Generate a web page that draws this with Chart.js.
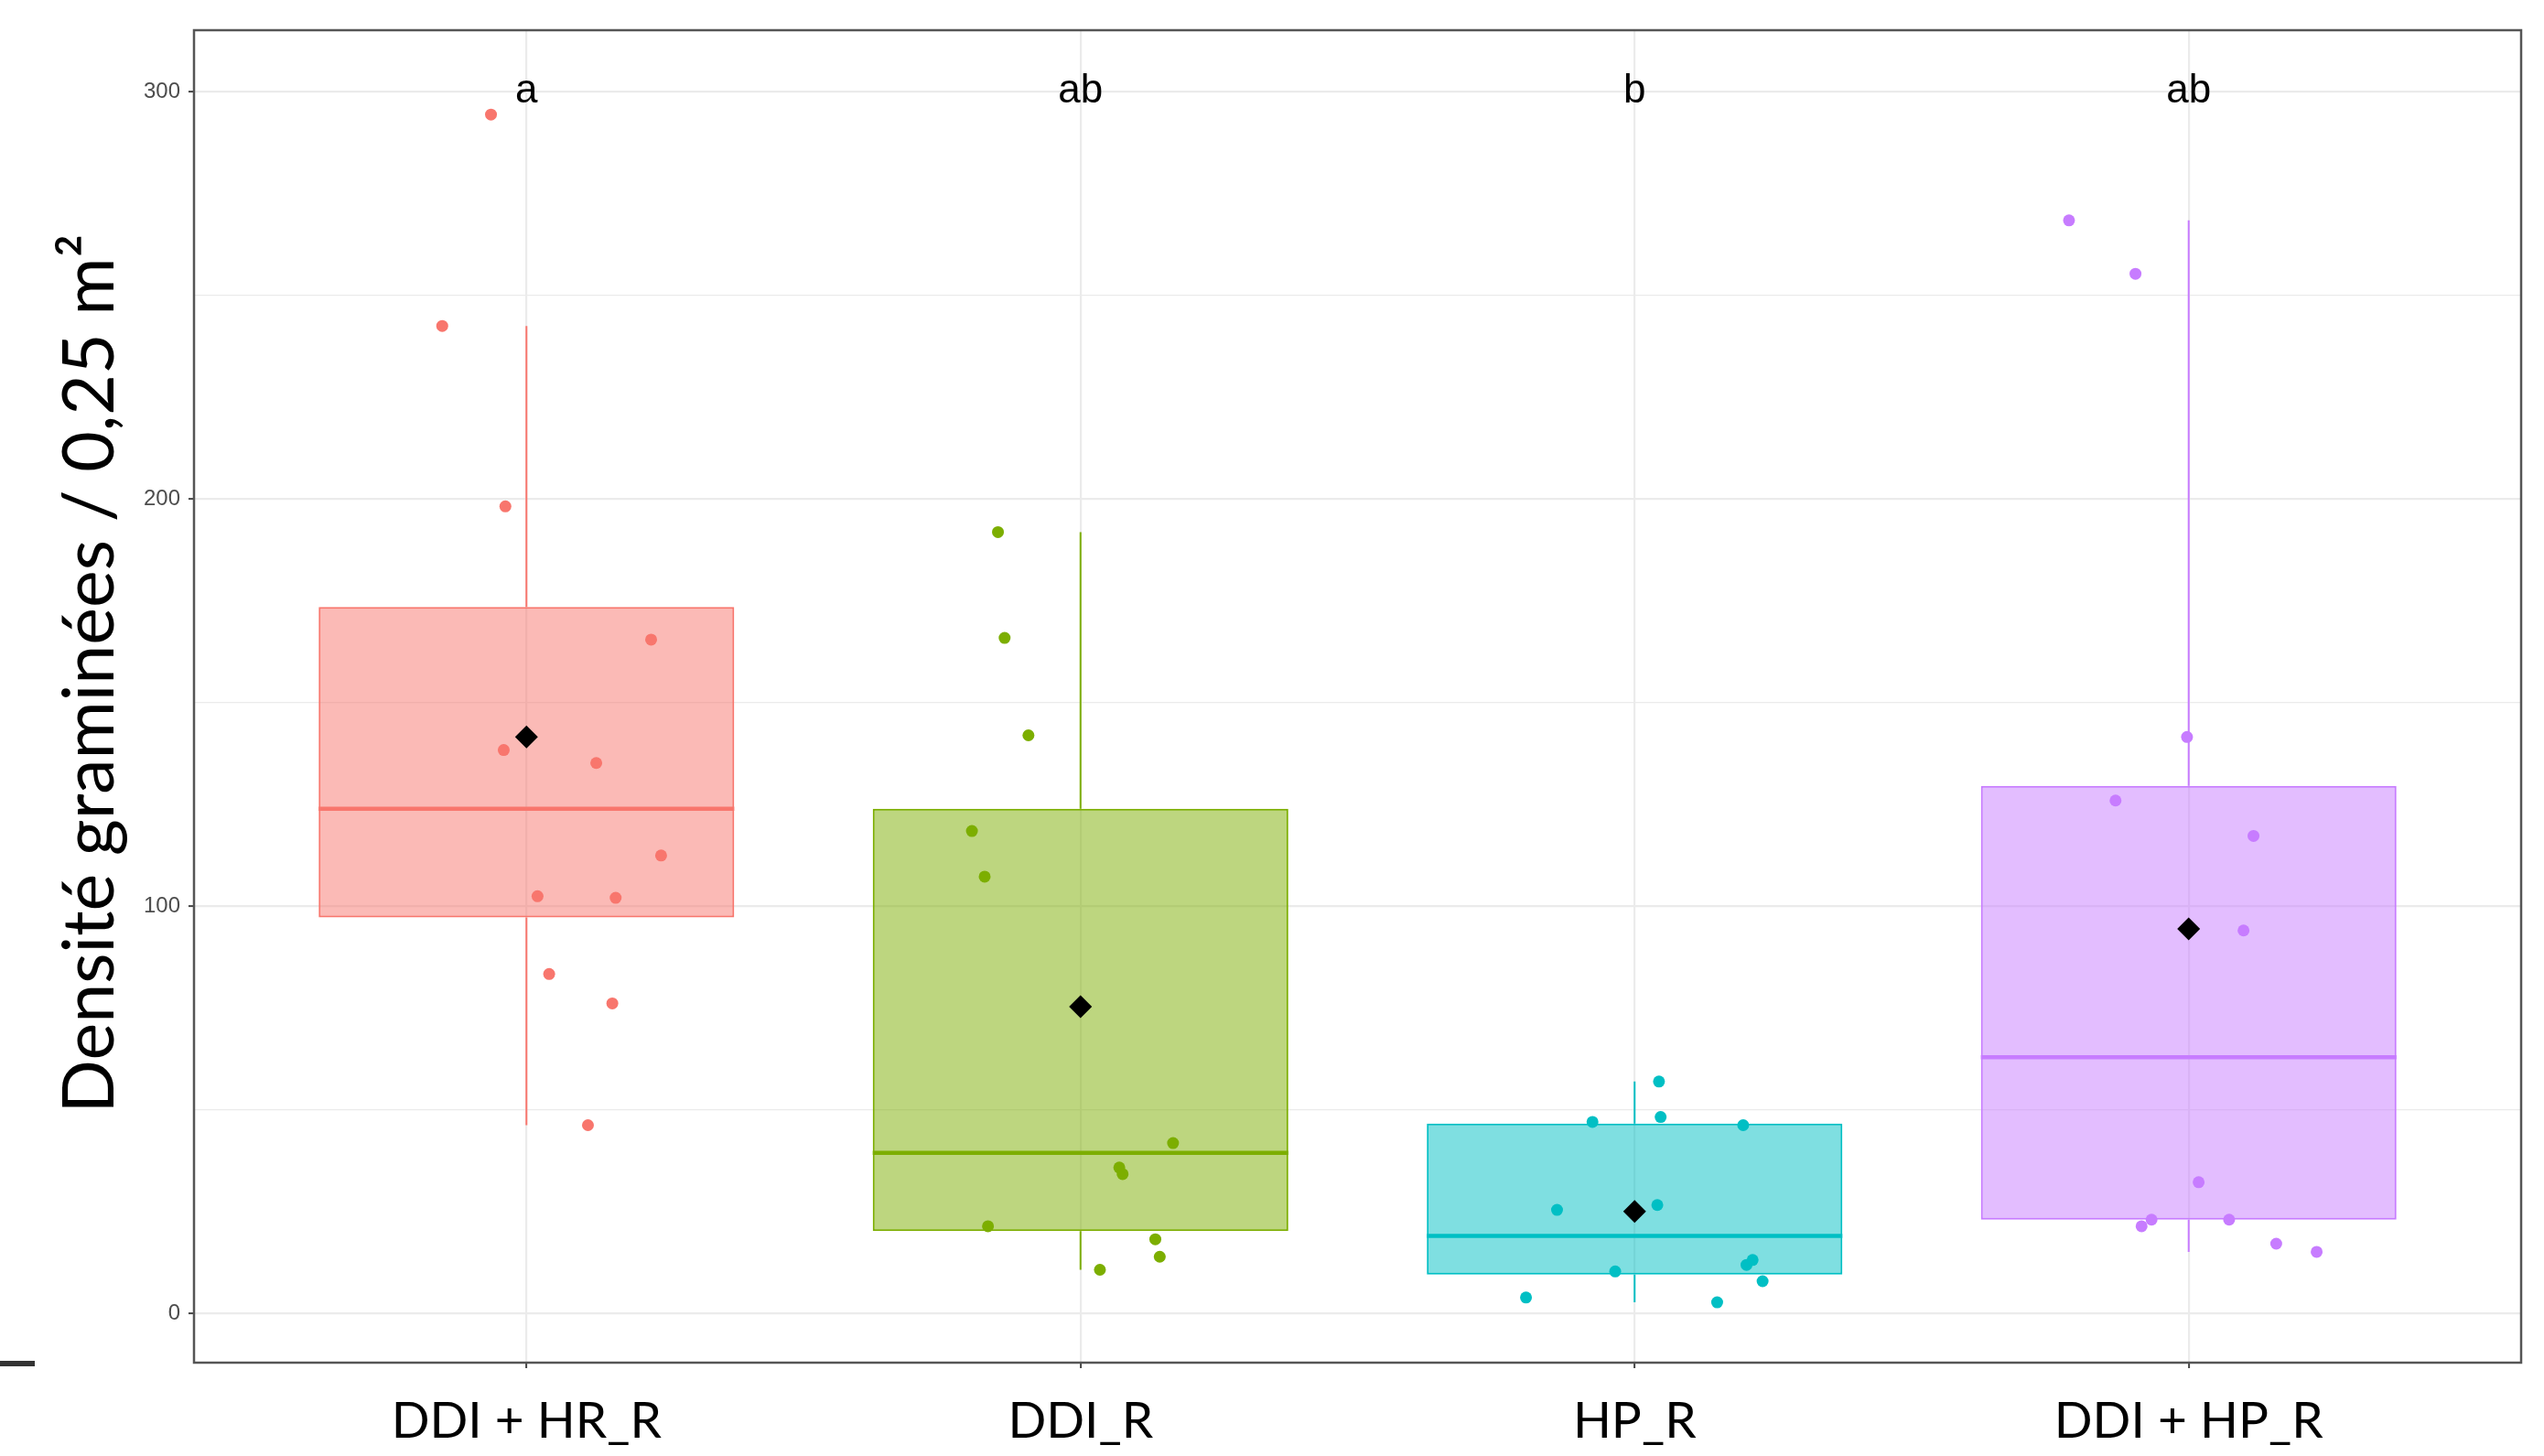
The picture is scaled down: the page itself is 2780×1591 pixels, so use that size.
<!DOCTYPE html>
<html>
<head>
<meta charset="utf-8">
<title>Densité graminées</title>
<script src="https://cdn.jsdelivr.net/npm/chart.js@4.4.1/dist/chart.umd.min.js"></script>
<style>
    body { margin: 0; background: #ffffff; }
    #wrap { position: relative; width: 2780px; height: 1591px; }
    #mark { position: absolute; left: 0; top: 1487px; width: 38px; height: 6px; background: #333333; }
</style>
</head>
<body>
<div id="wrap">
    <canvas id="boxChart"></canvas>
    <div id="mark"></div>
</div>
<script>
// Groupes et lettres de significativité
const categories = ['DDI + HR_R', 'DDI_R', 'HP_R', 'DDI + HP_R'];
const letters = ['a', 'ab', 'b', 'ab'];
const letterY = 300;
const colours = ['#F8766D', '#7CAE00', '#00BFC4', '#C77CFF'];
const fills = ['rgba(248,118,109,0.5)', 'rgba(124,174,0,0.5)', 'rgba(0,191,196,0.5)', 'rgba(199,124,255,0.5)'];

// Statistiques des boîtes
const q1 = [97.3, 20.3, 9.6, 23.1];
const medians = [124, 39.5, 19.1, 63];
const q3 = [173.5, 124, 46.7, 129.6];
const whiskerLow = [46.3, 10.8, 2.8, 15.2];
const whiskerHigh = [242.5, 191.9, 57, 268.4];
const means = [141.6, 75.4, 25.1, 94.5];

// Observations et décalage horizontal (jitter, en unités de catégorie)
const pointsDdiHr = [294.4, 242.5, 198.2, 165.5, 138.4, 135.2, 112.5, 102.5, 102.1, 83.4, 76.2, 46.3];
const jitterDdiHr = [-0.064, -0.152, -0.038, 0.225, -0.041, 0.126, 0.243, 0.020, 0.161, 0.041, 0.155, 0.111];
const pointsDdi = [191.9, 165.9, 142, 118.5, 107.3, 41.9, 35.9, 34.3, 21.5, 18.3, 14, 10.8];
const jitterDdi = [-0.149, -0.137, -0.094, -0.196, -0.173, 0.167, 0.070, 0.076, -0.167, 0.135, 0.143, 0.035];
const pointsHp = [57, 47.1, 48.3, 46.3, 25.5, 26.7, 10.4, 12, 13.2, 8, 4, 2.8];
const jitterHp = [0.044, -0.076, 0.047, 0.196, -0.140, 0.041, -0.035, 0.202, 0.213, 0.231, -0.196, 0.149];
const pointsDdiHp = [268.4, 255.3, 141.6, 126, 117.3, 94.1, 32.3, 23.1, 21.5, 23.1, 17.2, 15.2];
const jitterDdiHp = [-0.216, -0.096, -0.003, -0.132, 0.117, 0.099, 0.018, -0.067, -0.085, 0.073, 0.158, 0.231];

const yTicks = [0, 50, 100, 150, 200, 250, 300];
const yTitle = 'Densité graminées / 0,25 m²';

const groupPoints = [pointsDdiHr, pointsDdi, pointsHp, pointsDdiHp];
const groupJitter = [jitterDdiHr, jitterDdi, jitterHp, jitterDdiHp];

const datasets = [];

// boîtes (barres flottantes q1 -> q3)
datasets.push({
    type: 'bar',
    data: categories.map((c, i) => ({ x: i + 1, y: [q1[i], q3[i]] })),
    backgroundColor: fills,
    borderColor: colours,
    borderWidth: 2,
    borderSkipped: false,
    categoryPercentage: 1,
    barPercentage: 0.75,
    order: 5
});

categories.forEach((c, i) => {
    // médiane
    datasets.push({
        type: 'line',
        data: [{ x: i + 0.625, y: medians[i] }, { x: i + 1.375, y: medians[i] }],
        borderColor: colours[i],
        borderWidth: 4.5,
        pointRadius: 0,
        order: 4
    });
    // moustaches
    datasets.push({
        type: 'line',
        data: [
            { x: i + 1, y: whiskerLow[i] }, { x: i + 1, y: q1[i] },
            { x: i + 1, y: null },
            { x: i + 1, y: q3[i] }, { x: i + 1, y: whiskerHigh[i] }
        ],
        borderColor: colours[i],
        borderWidth: 2,
        pointRadius: 0,
        spanGaps: false,
        order: 3
    });
    // observations
    datasets.push({
        type: 'scatter',
        data: groupPoints[i].map((v, j) => ({ x: i + 1 + groupJitter[i][j], y: v })),
        backgroundColor: colours[i],
        borderWidth: 0,
        pointRadius: 6.5,
        order: 2
    });
});

// moyennes
datasets.push({
    type: 'scatter',
    data: means.map((m, i) => ({ x: i + 1, y: m })),
    backgroundColor: '#000000',
    borderWidth: 0,
    pointStyle: 'rectRot',
    pointRadius: 12.5,
    order: 1
});

const panelPlugin = {
    id: 'panel',
    afterDatasetsDraw(chart) {
        const ctx = chart.ctx;
        const x = chart.scales.x, y = chart.scales.y;
        ctx.save();
        ctx.fillStyle = '#000000';
        ctx.font = '44px "Liberation Sans", Arial, sans-serif';
        ctx.textAlign = 'center';
        ctx.textBaseline = 'middle';
        letters.forEach((l, i) => {
            ctx.fillText(l, x.getPixelForValue(i + 1), y.getPixelForValue(letterY));
        });
        ctx.restore();
    },
    afterDraw(chart) {
        const ctx = chart.ctx;
        const a = chart.chartArea;
        ctx.save();
        ctx.strokeStyle = '#555555';
        ctx.lineWidth = 2.5;
        ctx.strokeRect(a.left, a.top, a.right - a.left, a.bottom - a.top);
        // titre de l'axe y
        ctx.fillStyle = '#000000';
        ctx.font = '77px Lato, "Open Sans", sans-serif';
        ctx.textAlign = 'center';
        ctx.textBaseline = 'middle';
        ctx.translate(a.left - 113, (a.top + a.bottom) / 2 - 25);
        ctx.rotate(-Math.PI / 2);
        ctx.fillText(yTitle, 0, 0);
        ctx.restore();
    }
};

new Chart(document.getElementById('boxChart'), {
    data: { datasets: datasets },
    plugins: [panelPlugin],
    options: {
        responsive: true,
        maintainAspectRatio: false,
        animation: false,
        devicePixelRatio: 1,
        layout: { padding: { top: 33, right: 25, bottom: 0, left: 0 } },
        plugins: {
            legend: { display: false },
            tooltip: { enabled: false }
        },
        scales: {
            x: {
                type: 'linear',
                min: 0.4,
                max: 4.6,
                offset: false,
                afterBuildTicks: scale => { scale.ticks = categories.map((c, i) => ({ value: i + 1 })); },
                afterFit: scale => { scale.height = 102; },
                ticks: {
                    autoSkip: false,
                    maxRotation: 0,
                    padding: 25,
                    color: '#000000',
                    font: { family: 'Lato', size: 55 },
                    callback: v => categories[Math.round(v) - 1]
                },
                grid: {
                    offset: false,
                    color: '#EBEBEB',
                    lineWidth: 2.2,
                    drawTicks: true,
                    tickLength: 6,
                    tickColor: '#444444',
                    tickWidth: 2
                },
                border: { display: false }
            },
            y: {
                type: 'linear',
                min: -12,
                max: 315.1,
                afterBuildTicks: scale => { scale.ticks = yTicks.map(v => ({ value: v })); },
                afterFit: scale => { scale.width = 212; },
                ticks: {
                    padding: 9,
                    color: '#4D4D4D',
                    font: { family: 'Liberation Sans', size: 24 },
                    callback: v => (v % 100 === 0 ? String(v) : '')
                },
                grid: {
                    color: '#EBEBEB',
                    lineWidth: ctx => (ctx.tick && ctx.tick.value % 100 === 0 ? 2.2 : 1.2),
                    drawTicks: true,
                    tickLength: 6,
                    tickWidth: 2,
                    tickColor: ctx => (ctx.tick && ctx.tick.value % 100 === 0 ? '#444444' : 'rgba(0,0,0,0)')
                },
                border: { display: false }
            }
        }
    }
});
</script>
</body>
</html>
